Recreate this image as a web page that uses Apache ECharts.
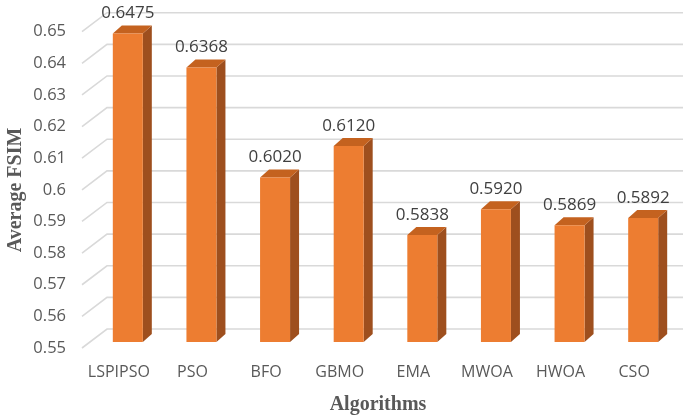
<!DOCTYPE html>
<html>
<head>
<meta charset="utf-8">
<script src="https://cdn.jsdelivr.net/npm/echarts@6/dist/echarts.min.js"></script>
<style>
html,body{margin:0;padding:0;background:#fff;}
#chart{width:685px;height:419px;}
</style>
</head>
<body>
<div id="chart"></div>
<script>
const categories = ['LSPIPSO', 'PSO', 'BFO', 'GBMO', 'EMA', 'MWOA', 'HWOA', 'CSO'];
const values = [0.6475, 0.6368, 0.6020, 0.6120, 0.5838, 0.5920, 0.5869, 0.5892];
const yTicks = [0.55, 0.56, 0.57, 0.58, 0.59, 0.60, 0.61, 0.62, 0.63, 0.64, 0.65];
const Y_MIN = 0.55, Y_MAX = 0.65, Y_STEP = 0.01;

// 3D style constants (pixels)
const OX = 9, OY = -6;      // bar front plane offset from axis plane
const BW = 30;              // bar front width
const DX = 9, DY = 8;       // bar depth
const WX = 25, WY = 19;     // back wall offset
const WALL_RIGHT = 683;

const chart = echarts.init(document.getElementById('chart'), null, {renderer: 'canvas'});

function renderWall(params, api) {
  const cs = params.coordSys;
  const p = api.coord([0, api.value(1)]);
  return {
    type: 'polyline',
    shape: { points: [[cs.x, p[1]], [cs.x + WX, p[1] - WY], [WALL_RIGHT, p[1] - WY]] },
    style: { stroke: '#d9d9d9', lineWidth: 1.6, fill: null }
  };
}

function renderBar(params, api) {
  const i = api.value(0), v = api.value(1);
  const t = api.coord([i, v]);
  const b = api.coord([i, Y_MIN]);
  const cx = t[0] + OX;
  const yTop = t[1] + OY, yBot = b[1] + OY;
  const x0 = cx - BW / 2, x1 = cx + BW / 2;
  return {
    type: 'group',
    children: [
      { type: 'polygon', shape: { points: [[x1, yTop], [x1 + DX, yTop - DY], [x1 + DX, yBot - DY], [x1, yBot]] },
        style: { fill: '#9E4F1E' } },
      { type: 'polygon', shape: { points: [[x0, yTop], [x0 + DX, yTop - DY], [x1 + DX, yTop - DY], [x1, yTop]] },
        style: { fill: '#C4621F' } },
      { type: 'rect', shape: { x: x0, y: yTop, width: BW, height: yBot - yTop },
        style: { fill: '#ED7D31' } },
      { type: 'text', x: cx, y: yTop - 20,
        style: { text: v.toFixed(4), fill: '#404040', font: '17px "Open Sans"', align: 'center', verticalAlign: 'middle' } }
    ]
  };
}

chart.setOption({
  animation: false,
  grid: { left: 82, right: 14, top: 31.7, bottom: 71, containLabel: false },
  xAxis: {
    type: 'category',
    data: categories,
    axisLine: { show: false },
    axisTick: { show: false },
    axisLabel: { interval: 0, color: '#595959', fontFamily: 'Open Sans', fontSize: 16, margin: 16 },
    splitLine: { show: false }
  },
  yAxis: {
    type: 'value',
    min: Y_MIN, max: Y_MAX, interval: Y_STEP,
    axisLine: { show: false },
    axisTick: { show: false },
    splitLine: { show: false },
    axisLabel: { color: '#595959', fontFamily: 'Open Sans', fontSize: 16.5, margin: 16,
      formatter: function (v) { return String(Math.round(v * 100) / 100); } }
  },
  graphic: [
    { type: 'text', x: 16, y: 190, rotation: Math.PI / 2,
      style: { text: 'Average FSIM', font: 'bold 20px "Liberation Serif"', fill: '#595959', align: 'center', verticalAlign: 'middle' } },
    { type: 'text', x: 378, y: 405,
      style: { text: 'Algorithms', font: 'bold 20px "Liberation Serif"', fill: '#595959', align: 'center', verticalAlign: 'middle' } }
  ],
  series: [
    { type: 'custom', z: 1, renderItem: renderWall, data: yTicks.map(v => [0, v]), encode: { x: 0, y: 1 }, silent: true },
    { type: 'custom', z: 2, renderItem: renderBar, data: values.map((v, i) => [i, v]), encode: { x: 0, y: 1 } }
  ]
});
</script>
</body>
</html>
